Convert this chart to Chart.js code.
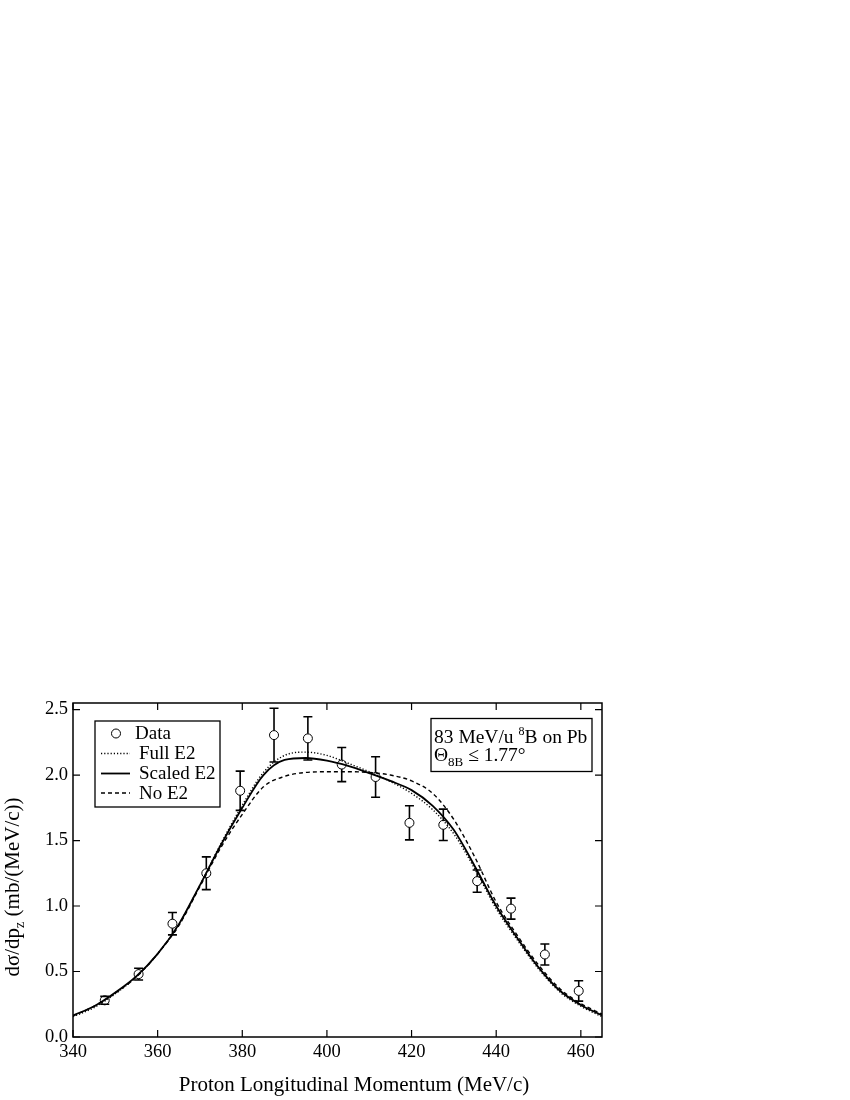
<!DOCTYPE html>
<html>
<head>
<meta charset="utf-8">
<script src="https://cdn.jsdelivr.net/npm/chart.js@4.4.1/dist/chart.umd.min.js"></script>
<style>
html,body{margin:0;padding:0;background:#fff;}
#wrap{width:850px;height:1100px;position:relative;}
</style>
</head>
<body>
<div id="wrap"><canvas id="c" width="850" height="1100"></canvas></div>
<script>
// ---- data ----
const dataX = [347.5, 355.5, 363.5, 371.5, 379.5, 387.5, 395.5, 403.5, 411.5, 419.5, 427.5, 435.5, 443.5, 451.5, 459.5];
const dataY = [0.28, 0.48, 0.865, 1.25, 1.88, 2.305, 2.28, 2.08, 1.985, 1.635, 1.62, 1.19, 0.98, 0.63, 0.352];
const dataErr = [0.03, 0.045, 0.085, 0.125, 0.15, 0.205, 0.165, 0.13, 0.155, 0.13, 0.12, 0.085, 0.08, 0.08, 0.078];

const curveX = [340, 345, 350, 355, 360, 365, 370, 375, 380, 385, 390, 395, 400, 405, 410, 415, 420, 425, 430, 435, 440, 445, 450, 455, 460, 465];
const fullE2 = [0.155, 0.225, 0.33, 0.46, 0.635, 0.86, 1.16, 1.48, 1.77, 2.02, 2.15, 2.175, 2.15, 2.09, 2.025, 1.95, 1.86, 1.735, 1.55, 1.28, 0.98, 0.74, 0.52, 0.345, 0.235, 0.155];
const scaledE2 = [0.165, 0.235, 0.34, 0.465, 0.635, 0.86, 1.16, 1.47, 1.75, 2.00, 2.115, 2.13, 2.11, 2.07, 2.015, 1.955, 1.885, 1.765, 1.58, 1.30, 1.00, 0.755, 0.532, 0.355, 0.245, 0.165];
const noE2 = [0.16, 0.235, 0.335, 0.46, 0.635, 0.85, 1.15, 1.45, 1.70, 1.91, 1.99, 2.02, 2.025, 2.025, 2.02, 2.00, 1.955, 1.86, 1.66, 1.37, 1.03, 0.775, 0.55, 0.37, 0.255, 0.175];

const xTicks = [340, 360, 380, 400, 420, 440, 460];
const yTicks = [0.0, 0.5, 1.0, 1.5, 2.0, 2.5];
const xMin = 340, xMax = 465, yMin = 0, yMax = 2.55;

const seriesLabels = ['Data', 'Full E2', 'Scaled E2', 'No E2'];
const xTitle = 'Proton Longitudinal Momentum (MeV/c)';

const FONT = "'Liberation Serif', 'Times New Roman', serif";
const FS_TICK = 18.5, FS_LEG = 19, FS_INFO = 19.5, FS_TITLE = 21;

function pts(xs, ys){ return xs.map((x,i)=>({x:x, y:ys[i]})); }

const decorPlugin = {
  id: 'decor',
  afterDatasetsDraw(chart){
    const ctx = chart.ctx;
    const xs = chart.scales.x, ys = chart.scales.y;
    const a = chart.chartArea;
    ctx.save();
    // error bars
    ctx.strokeStyle = '#000';
    ctx.lineWidth = 1.6;
    dataX.forEach((x,i)=>{
      const px = xs.getPixelForValue(x);
      const pt = ys.getPixelForValue(dataY[i] + dataErr[i]);
      const pb = ys.getPixelForValue(dataY[i] - dataErr[i]);
      const pc = ys.getPixelForValue(dataY[i]);
      const r = 4.5, cw = 4.5;
      ctx.beginPath();
      if (pc - r > pt) { ctx.moveTo(px, pt); ctx.lineTo(px, pc - r); }
      if (pc + r < pb) { ctx.moveTo(px, pc + r); ctx.lineTo(px, pb); }
      ctx.moveTo(px - cw, pt); ctx.lineTo(px + cw, pt);
      ctx.moveTo(px - cw, pb); ctx.lineTo(px + cw, pb);
      ctx.stroke();
    });
    // frame
    ctx.lineWidth = 1.5;
    ctx.strokeRect(a.left, a.top, a.right - a.left, a.bottom - a.top);
    // inward ticks
    ctx.lineWidth = 1.2;
    const tl = 7;
    ctx.beginPath();
    xTicks.forEach(v=>{
      const p = xs.getPixelForValue(v);
      ctx.moveTo(p, a.bottom); ctx.lineTo(p, a.bottom - tl);
      ctx.moveTo(p, a.top); ctx.lineTo(p, a.top + tl);
    });
    yTicks.forEach(v=>{
      const p = ys.getPixelForValue(v);
      ctx.moveTo(a.left, p); ctx.lineTo(a.left + tl, p);
      ctx.moveTo(a.right, p); ctx.lineTo(a.right - tl, p);
    });
    ctx.stroke();

    // legend box
    ctx.lineWidth = 1.3;
    ctx.strokeRect(95, 721, 125, 86);
    ctx.fillStyle = '#000';
    ctx.font = FS_LEG + 'px ' + FONT;
    ctx.textBaseline = 'middle';
    ctx.textAlign = 'left';
    const rows = [733.5, 753.5, 773.5, 793];
    rows.forEach((ry, i)=>{
      const ds = chart.data.datasets[i];
      if (i === 0) {
        ctx.lineWidth = 1;
        ctx.beginPath(); ctx.arc(116, ry, 4.5, 0, Math.PI*2); ctx.stroke();
        ctx.fillText(ds.label, 135, ry + 1);
      } else {
        ctx.lineWidth = ds.borderWidth;
        ctx.setLineDash(ds.borderDash || []);
        ctx.beginPath(); ctx.moveTo(101, ry); ctx.lineTo(130, ry); ctx.stroke();
        ctx.setLineDash([]);
        ctx.fillText(ds.label, 139, ry + 1);
      }
    });

    // info box
    ctx.lineWidth = 1.3;
    ctx.strokeRect(431, 718.5, 161, 53);
    ctx.fillStyle = '#000';
    ctx.textBaseline = 'alphabetic';
    ctx.font = FS_INFO + 'px ' + FONT;
    let x0 = 434, by = 743;
    let t = '83 MeV/u ';
    ctx.fillText(t, x0, by); x0 += ctx.measureText(t).width;
    ctx.font = '12px ' + FONT;
    ctx.fillText('8', x0, by - 8); x0 += ctx.measureText('8').width;
    ctx.font = FS_INFO + 'px ' + FONT;
    ctx.fillText('B on Pb', x0, by);
    x0 = 434; by = 761;
    ctx.fillText('\u0398', x0, by); x0 += ctx.measureText('\u0398').width;
    ctx.font = '13px ' + FONT;
    ctx.fillText('8B', x0, by + 5); x0 += ctx.measureText('8B').width;
    ctx.font = FS_INFO + 'px ' + FONT;
    ctx.fillText(' \u2264 1.77\u00b0', x0, by);

    // x axis title
    ctx.font = FS_TITLE + 'px ' + FONT;
    ctx.textAlign = 'center';
    ctx.textBaseline = 'middle';
    ctx.fillText(xTitle, 354, 1085);

    // y axis title (rotated)
    ctx.save();
    ctx.textBaseline = 'alphabetic';
    ctx.translate(19, 887);
    ctx.rotate(-Math.PI/2);
    const p1 = 'd\u03c3/dp', sub = 'z', p2 = ' (mb/(MeV/c))';
    ctx.font = FS_TITLE + 'px ' + FONT;
    const w1 = ctx.measureText(p1).width, w3 = ctx.measureText(p2).width;
    ctx.font = '14px ' + FONT;
    const w2 = ctx.measureText(sub).width;
    const tw = w1 + w2 + w3;
    let sx = -tw/2;
    ctx.textAlign = 'left';
    ctx.font = FS_TITLE + 'px ' + FONT;
    ctx.fillText(p1, sx, 0); sx += w1;
    ctx.font = '14px ' + FONT;
    ctx.fillText(sub, sx, 5); sx += w2;
    ctx.font = FS_TITLE + 'px ' + FONT;
    ctx.fillText(p2, sx, 0);
    ctx.restore();

    ctx.restore();
  }
};

new Chart(document.getElementById('c'), {
  type: 'scatter',
  data: {
    datasets: [
      { label: seriesLabels[0], data: pts(dataX, dataY), showLine: false,
        pointStyle: 'circle', pointRadius: 4.5, pointBorderWidth: 1, pointBorderColor: '#000',
        pointBackgroundColor: 'rgba(0,0,0,0)', borderColor: '#000', order: 0 },
      { label: seriesLabels[1], data: pts(curveX, fullE2), showLine: true, pointRadius: 0,
        borderColor: '#000', borderWidth: 1.4, borderDash: [1.2, 2], cubicInterpolationMode: 'monotone', fill: false },
      { label: seriesLabels[2], data: pts(curveX, scaledE2), showLine: true, pointRadius: 0,
        borderColor: '#000', borderWidth: 1.8, cubicInterpolationMode: 'monotone', fill: false },
      { label: seriesLabels[3], data: pts(curveX, noE2), showLine: true, pointRadius: 0,
        borderColor: '#000', borderWidth: 1.4, borderDash: [4, 3], cubicInterpolationMode: 'monotone', fill: false }
    ]
  },
  options: {
    responsive: false,
    animation: false,
    devicePixelRatio: 1,
    layout: { padding: { left: 0, right: 248, top: 703, bottom: 0 } },
    plugins: { legend: { display: false }, tooltip: { enabled: false } },
    scales: {
      x: {
        type: 'linear', min: xMin, max: xMax,
        grid: { display: false, drawTicks: false }, border: { display: false },
        afterBuildTicks: s => { s.ticks = xTicks.map(v => ({ value: v })); },
        ticks: { color: '#000', padding: 4, font: { family: FONT, size: FS_TICK }, maxRotation: 0, autoSkip: false },
        title: { display: false, text: xTitle },
        afterFit: s => { s.height = 63; }
      },
      y: {
        type: 'linear', min: yMin, max: yMax,
        grid: { display: false, drawTicks: false }, border: { display: false },
        afterBuildTicks: s => { s.ticks = yTicks.map(v => ({ value: v })); },
        ticks: { color: '#000', padding: 5, font: { family: FONT, size: FS_TICK }, callback: v => Number(v).toFixed(1) },
        afterFit: s => { s.width = 73; }
      }
    }
  },
  plugins: [decorPlugin]
});
</script>
</body>
</html>
